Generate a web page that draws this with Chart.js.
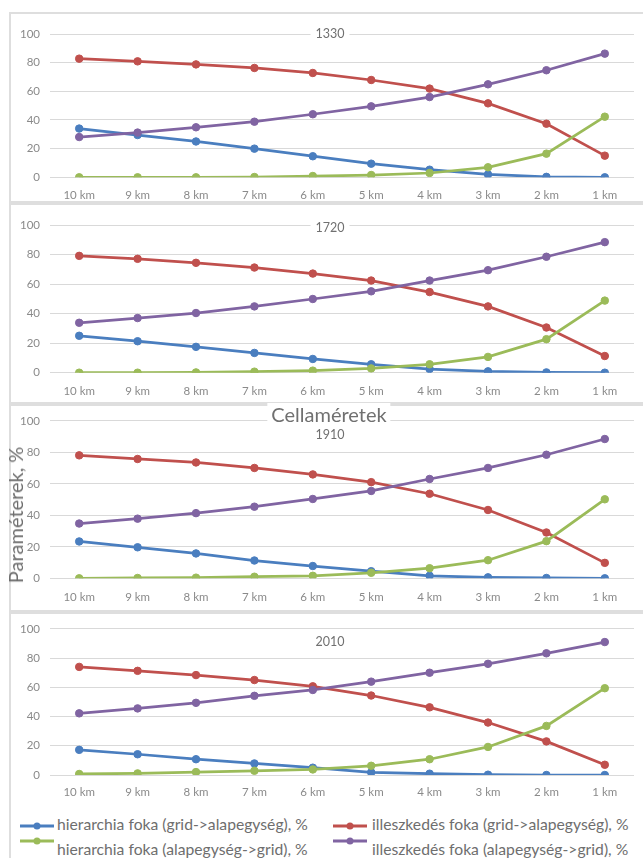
<!DOCTYPE html>
<html>
<head>
<meta charset="utf-8">
<script src="https://cdn.jsdelivr.net/npm/chart.js@4.4.1/dist/chart.umd.min.js"></script>
<style>
  html, body { margin: 0; padding: 0; background: #fff; }
  #page { position: relative; width: 643px; height: 858px; overflow: hidden; background: #fff;
          font-family: Lato, "Liberation Sans", sans-serif; }
  .frame { position: absolute; left: 9px; width: 640px; box-sizing: border-box;
           border: 2px solid #dedede; border-right: none; }
  canvas { position: absolute; left: 0; }
  .label { position: absolute; transform: translate(-50%, -50%); white-space: nowrap;
           background: #fff; color: #707070; line-height: 1; z-index: 2; }
  .ytitle { position: absolute; transform: translate(-50%, -50%) rotate(-90deg); white-space: nowrap;
            color: #6e6e6e; font-size: 20px; line-height: 1; z-index: 2; }
  .leg-text { position: absolute; transform: translateY(-50%); white-space: nowrap;
              color: #6e6e6e; font-size: 15.7px; line-height: 1; }
  .leg-line { position: absolute; height: 3px; transform: translateY(-50%); }
  .leg-dot { position: absolute; width: 7px; height: 7px; border-radius: 50%; transform: translate(-50%, -50%); }
</style>
</head>
<body>
<div id="page"></div>
<script>
// Cell sizes along the x axis
const categories = ['10 km', '9 km', '8 km', '7 km', '6 km', '5 km', '4 km', '3 km', '2 km', '1 km'];
// One panel per year
const years = ['1330', '1720', '1910', '2010'];
const yTicks = [0, 20, 40, 60, 80, 100];

// Series names and colours
const seriesNames = [
  'hierarchia foka (grid->alapegység), %',
  'illeszkedés foka (grid->alapegység), %',
  'hierarchia foka (alapegység->grid), %',
  'illeszkedés foka (alapegység->grid), %'
];
const seriesColors = ['#4a7ebf', '#c0504d', '#9bbb59', '#8064a2'];

// Values per year (rows: 1330, 1720, 1910, 2010)
const hierarchiaGridAlap = [
  [34, 29.5, 25, 20, 14.7, 9.5, 5.3, 2, 0.3, 0],
  [25, 21.3, 17.5, 13.4, 9.3, 5.7, 2.5, 0.9, 0.2, 0],
  [23.4, 19.7, 15.8, 11.3, 7.8, 4.5, 1.6, 0.6, 0.2, 0],
  [17.2, 14.2, 10.8, 7.9, 5, 1.8, 0.9, 0.2, 0, 0]
];
const illeszkedesGridAlap = [
  [82.8, 80.9, 78.8, 76.3, 72.8, 67.9, 61.9, 51.6, 37.4, 15.1],
  [79.1, 77.1, 74.4, 71.2, 67.1, 62.4, 54.6, 44.9, 30.6, 11.3],
  [78.1, 75.8, 73.6, 70.1, 66, 61.1, 53.7, 43.4, 29.1, 9.8],
  [74, 71.3, 68.4, 65, 60.7, 54.4, 46.3, 35.9, 23, 7]
];
const hierarchiaAlapGrid = [
  [0, 0, 0, 0.2, 0.9, 1.6, 3, 7, 16.5, 42.3],
  [0, 0, 0.2, 0.7, 1.4, 2.9, 5.7, 10.7, 22.7, 48.8],
  [0, 0.2, 0.4, 1, 1.6, 3.5, 6.4, 11.5, 23.6, 50.2],
  [0.7, 1.1, 2, 2.9, 3.8, 6.3, 10.8, 19.2, 33.6, 59.4]
];
const illeszkedesAlapGrid = [
  [28.1, 31.2, 34.9, 38.8, 44, 49.5, 56, 64.9, 74.7, 86.3],
  [33.8, 37, 40.4, 44.9, 49.9, 55.1, 62.4, 69.4, 78.5, 88.4],
  [34.8, 37.9, 41.4, 45.5, 50.4, 55.5, 63.1, 70.1, 78.5, 88.5],
  [42.2, 45.6, 49.4, 54.2, 58.2, 63.9, 70, 76.1, 83.3, 91]
];
const seriesValues = [hierarchiaGridAlap, illeszkedesGridAlap, hierarchiaAlapGrid, illeszkedesAlapGrid];

// Panel geometry: canvas top/height, plot top (100) and bottom (0), label spacing, title y
const panelTop = [0, 203, 404, 612];
const panelHeight = [202, 200, 207, 200];
const plotTop = [34, 225, 415.7, 627.3];
const plotBottom = [177.3, 372.7, 578.3, 775];
const xLabelPad = [11.5, 11.4, 12, 10.7];
const titleY = [34, 227.7, 435, 642.4];
const frameTop = [12, 203, 404, 612];
const frameBottom = [203, 404, 612, 900];

const page = document.getElementById('page');
const tickFont = { family: 'Lato', size: 11.5 };
const tickColor = '#8a8a8a';

years.forEach((year, i) => {
  const frame = document.createElement('div');
  frame.className = 'frame';
  frame.style.top = frameTop[i] + 'px';
  frame.style.height = (frameBottom[i] - frameTop[i]) + 'px';
  page.appendChild(frame);

  const canvas = document.createElement('canvas');
  canvas.width = 643;
  canvas.height = panelHeight[i];
  canvas.style.top = panelTop[i] + 'px';
  page.appendChild(canvas);

  const xHeight = panelTop[i] + panelHeight[i] - plotBottom[i];

  new Chart(canvas, {
    type: 'line',
    data: {
      labels: categories,
      datasets: seriesNames.map((name, k) => ({
        label: name,
        data: seriesValues[k][i],
        borderColor: seriesColors[k],
        backgroundColor: seriesColors[k],
        borderWidth: 2.75,
        pointRadius: 3.75,
        pointHoverRadius: 3.75,
        pointBorderWidth: 1,
        tension: 0,
        fill: false,
        order: 3 - k
      }))
    },
    options: {
      responsive: false,
      animation: false,
      devicePixelRatio: 1,
      events: [],
      layout: { padding: { top: plotTop[i] - panelTop[i], right: 9, bottom: 0, left: 0 } },
      plugins: { legend: { display: false }, tooltip: { enabled: false }, title: { display: false } },
      scales: {
        x: {
          offset: true,
          grid: { display: false, drawTicks: false },
          border: { display: false },
          ticks: { color: tickColor, font: tickFont, padding: xLabelPad[i], maxRotation: 0, autoSkip: false },
          afterFit: s => { s.height = xHeight; }
        },
        y: {
          min: 0, max: 100,
          afterBuildTicks: s => { s.ticks = yTicks.map(v => ({ value: v })); },
          ticks: { color: tickColor, font: tickFont, padding: 10 },
          grid: { color: '#d9d9d9', lineWidth: 1, drawTicks: false },
          border: { display: false },
          afterFit: s => { s.width = 50; }
        }
      }
    }
  });

  const t = document.createElement('div');
  t.className = 'label';
  t.textContent = year;
  t.style.left = '330px';
  t.style.top = titleY[i] + 'px';
  t.style.fontSize = '12.5px';
  t.style.padding = '1px 5px';
  page.appendChild(t);
});

// Shared axis titles
const xTitle = document.createElement('div');
xTitle.className = 'label';
xTitle.textContent = 'Cellaméretek';
xTitle.style.left = '329px';
xTitle.style.top = '413.5px';
xTitle.style.fontSize = '20px';
xTitle.style.padding = '1px 4px';
page.appendChild(xTitle);

const yTitle = document.createElement('div');
yTitle.className = 'ytitle';
yTitle.textContent = 'Paraméterek, %';
yTitle.style.left = '15px';
yTitle.style.top = '515px';
page.appendChild(yTitle);

// Legend: two columns, two rows
const legMarkerX = [20, 333];
const legTextX = [57, 372];
const legMarkerY = [825.5, 841];
const legTextY = [825, 850];
seriesNames.forEach((name, k) => {
  const col = k % 2, row = Math.floor(k / 2);
  const line = document.createElement('div');
  line.className = 'leg-line';
  line.style.left = legMarkerX[col] + 'px';
  line.style.width = '34px';
  line.style.top = legMarkerY[row] + 'px';
  line.style.background = seriesColors[k];
  page.appendChild(line);
  const dot = document.createElement('div');
  dot.className = 'leg-dot';
  dot.style.left = (legMarkerX[col] + 17) + 'px';
  dot.style.top = legMarkerY[row] + 'px';
  dot.style.background = seriesColors[k];
  page.appendChild(dot);
  const txt = document.createElement('div');
  txt.className = 'leg-text';
  txt.textContent = name;
  txt.style.left = legTextX[col] + 'px';
  txt.style.top = legTextY[row] + 'px';
  page.appendChild(txt);
});
</script>
</body>
</html>
